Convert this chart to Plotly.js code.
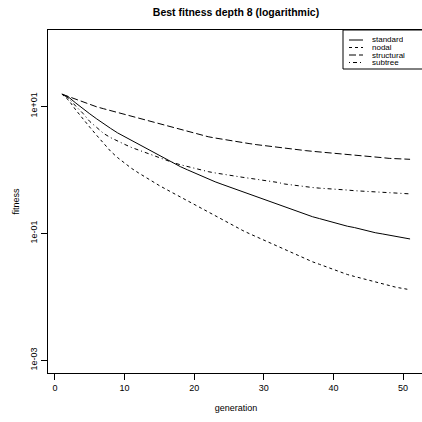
<!DOCTYPE html>
<html>
<head>
<meta charset="utf-8">
<script src="https://cdn.plot.ly/plotly-3.0.1.min.js"></script>
<style>
html,body{margin:0;padding:0;overflow:hidden;background:#fff;}
#chart{width:430px;height:422px;}
</style>
</head>
<body>
<div id="chart"></div>
<script>
// ---- data ----
const generation = [1,2,3,4,5,6,7,8,9,10,11,12,13,14,15,16,17,18,19,20,21,22,23,24,25,26,27,28,29,30,31,32,33,34,35,36,37,38,39,40,41,42,43,44,45,46,47,48,49,50,51];

const standard = [15.5,13.8,11.2,9.12,7.59,6.31,5.25,4.47,3.80,3.31,2.88,2.51,2.19,1.91,1.66,1.45,1.26,1.12,1.00,0.891,0.794,0.708,0.646,0.589,0.537,0.490,0.447,0.407,0.372,0.339,0.309,0.282,0.257,0.234,0.214,0.195,0.182,0.170,0.158,0.148,0.138,0.129,0.123,0.115,0.110,0.102,0.0977,0.0933,0.0891,0.0851,0.0813];

const nodal = [15.5,12.3,8.71,6.31,4.68,3.47,2.57,1.95,1.55,1.26,1.05,0.891,0.759,0.646,0.562,0.490,0.427,0.372,0.324,0.282,0.245,0.214,0.186,0.162,0.141,0.123,0.110,0.0977,0.0871,0.0776,0.0692,0.0617,0.0550,0.0490,0.0437,0.0398,0.0355,0.0324,0.0295,0.0269,0.0245,0.0224,0.0209,0.0195,0.0182,0.0170,0.0158,0.0151,0.0141,0.0135,0.0129];

const structural = [15.5,14.1,12.9,11.7,10.7,9.77,9.12,8.51,7.94,7.41,6.92,6.46,6.03,5.62,5.25,4.90,4.57,4.27,3.98,3.72,3.51,3.31,3.16,3.02,2.88,2.75,2.66,2.57,2.48,2.40,2.32,2.24,2.16,2.09,2.04,2.00,1.95,1.91,1.86,1.82,1.78,1.74,1.70,1.66,1.62,1.58,1.55,1.51,1.50,1.48,1.46];

const subtree = [15.5,13.2,10.0,7.76,5.75,4.57,3.72,3.20,2.80,2.51,2.24,2.04,1.86,1.70,1.55,1.41,1.29,1.20,1.12,1.05,0.977,0.933,0.891,0.851,0.813,0.785,0.759,0.733,0.708,0.684,0.661,0.631,0.596,0.575,0.550,0.537,0.525,0.513,0.501,0.490,0.484,0.479,0.468,0.462,0.457,0.447,0.442,0.437,0.427,0.422,0.417];

const seriesNames = ["standard","nodal","structural","subtree"];
const seriesData = [standard, nodal, structural, subtree];
const xTickVals = [0,10,20,30,40,50];
const yTickVals = [0.001, 0.1, 10];
const yTickText = ["1e-03","1e-01","1e+01"];

// ---- styling ----
const dashes = ["solid","3px,3px","7px,3px","1px,3px,4px,3px"];
const FONT = "Liberation Sans, Arial, Helvetica, sans-serif";

const W = 430, H = 422;
const M = {l:48, r:6, t:30, b:49};
const pw = W - M.l - M.r, ph = H - M.t - M.b;
const px2x = p => (p - M.l) / pw;
const py2y = p => (H - M.b - p) / ph;

const traces = seriesNames.map((n,i) => ({
  x: generation, y: seriesData[i], type: 'scatter', mode: 'lines', name: n,
  line: {color: '#000', width: 1, dash: dashes[i]}, showlegend: false, hoverinfo: 'skip'
}));

// custom legend (R style)
const shapes = [{
  type: 'rect', xref: 'paper', yref: 'paper',
  x0: px2x(343), x1: px2x(430), y0: py2y(69), y1: py2y(30),
  line: {color: '#000', width: 1}, fillcolor: '#fff'
}];
const annotations = [];
seriesNames.forEach((n,i) => {
  const yy = 40 + i * 7.5;
  shapes.push({type: 'line', xref: 'paper', yref: 'paper',
    x0: px2x(349), x1: px2x(363), y0: py2y(yy), y1: py2y(yy),
    line: {color: '#000', width: 1, dash: dashes[i]}});
  annotations.push({xref: 'paper', yref: 'paper', x: px2x(371), y: py2y(yy),
    text: n, showarrow: false, xanchor: 'left', yanchor: 'middle', borderpad: 0,
    height: 7.4, valign: 'middle',
    font: {family: FONT, size: 8, color: '#000'}});
});

const layout = {
  width: W, height: H,
  margin: M,
  paper_bgcolor: '#fff', plot_bgcolor: '#fff',
  font: {family: FONT, size: 9, color: '#000'},
  title: {text: '<b>Best fitness depth 8 (logarithmic)</b>', x: 0.5, xref: 'paper',
          y: 1 - 12.5/H, yanchor: 'middle', font: {family: FONT, size: 10.5, color: '#000'}},
  xaxis: {
    range: [-1, 53], tickvals: xTickVals, ticktext: xTickVals.map(String),
    ticks: 'outside', ticklen: 6, tickwidth: 1, tickcolor: '#000',
    showline: true, linecolor: '#000', linewidth: 1, mirror: true,
    showgrid: false, zeroline: false,
    tickfont: {family: FONT, size: 9, color: '#000'},
    title: {text: 'generation', standoff: 12, font: {family: FONT, size: 9, color: '#000'}}
  },
  yaxis: {
    type: 'log', range: [-3.2, 2.2], tickvals: yTickVals, ticktext: yTickText,
    ticks: 'outside', ticklen: 6, tickwidth: 1, tickcolor: '#000', tickangle: -90,
    showline: true, linecolor: '#000', linewidth: 1, mirror: true,
    showgrid: false, zeroline: false,
    tickfont: {family: FONT, size: 9, color: '#000'},
    title: {text: 'fitness', standoff: 8, font: {family: FONT, size: 9, color: '#000'}}
  },
  shapes: shapes,
  annotations: annotations
};

Plotly.newPlot('chart', traces, layout, {displayModeBar: false, staticPlot: true});
</script>
</body>
</html>
